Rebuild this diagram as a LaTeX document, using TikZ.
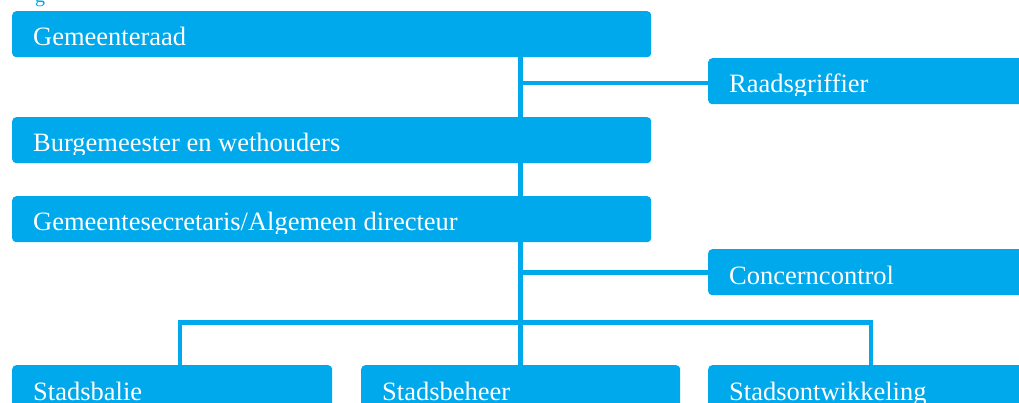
\documentclass[tikz,border=0pt]{standalone}
\usepackage{fontspec}
\setmainfont{Liberation Serif}
\definecolor{orgblue}{RGB}{0,168,236}
\tikzset{
  orgbox/.style={draw=none, fill=orgblue, rounded corners=4pt, inner sep=0pt, anchor=north west},
  orgtxt/.style={text=white, inner sep=0pt, anchor=base west, font=\fontsize{26.5}{30}\selectfont},
  conn/.style={draw=orgblue, line width=4.6pt}
}
% #1 name, #2 x left, #3 y top (pixels), #4 width, #5 height, #6 text
\newcommand{\orgunit}[6]{%
  \node[orgbox, minimum width=#4pt, minimum height=#5pt] (#1) at (#2pt,-#3pt) {};
  \begin{scope}
    \clip (#2pt,-#3pt) rectangle ++(#4pt,-38pt);
    \node[orgtxt] (#1txt) at ([shift={(21pt,-35pt)}]#1.north west) {#6};
  \end{scope}
}
\begin{document}
\begin{tikzpicture}[x=1pt,y=1pt]
\useasboundingbox (0,0) rectangle (1019,-403);
\node[text=orgblue, inner sep=0pt, anchor=base west, font=\fontsize{20}{24}\selectfont] (capg) at (35,-2.5) {g};
% connectors first
\coordinate (busL) at (180,-322.5);
\coordinate (busR) at (871,-322.5);
\orgunit{raad}{12}{11}{639}{46}{Gemeenteraad}
\orgunit{griffier}{708}{58}{330}{46}{Raadsgriffier}
\orgunit{bw}{12}{117}{639}{46}{Burgemeester en wethouders}
\orgunit{secr}{12}{196}{639}{46}{Gemeentesecretaris/Algemeen directeur}
\orgunit{cc}{708}{249}{330}{46}{Concerncontrol}
\orgunit{balie}{12}{365}{320}{60}{Stadsbalie}
\orgunit{beheer}{361}{365}{319}{60}{Stadsbeheer}
\orgunit{ontw}{708}{365}{330}{60}{Stadsontwikkeling}
\begin{scope}[on background layer/.style={}]
\draw[conn] (raad.south -| beheer.north) -- (bw.north -| beheer.north);
\draw[conn] (bw.south -| beheer.north) -- (secr.north -| beheer.north);
\draw[conn] (secr.south -| beheer.north) -- (beheer.north);
\draw[conn] ([yshift=-2pt]griffier.west -| beheer.north) -- ([yshift=-2pt]griffier.west);
\draw[conn] (cc.west -| beheer.north) -- (cc.west);
\draw[conn] (busL |- balie.north) -- (busL) -- (busR) -- (busR |- ontw.north);
\end{scope}
\end{tikzpicture}
\end{document}
